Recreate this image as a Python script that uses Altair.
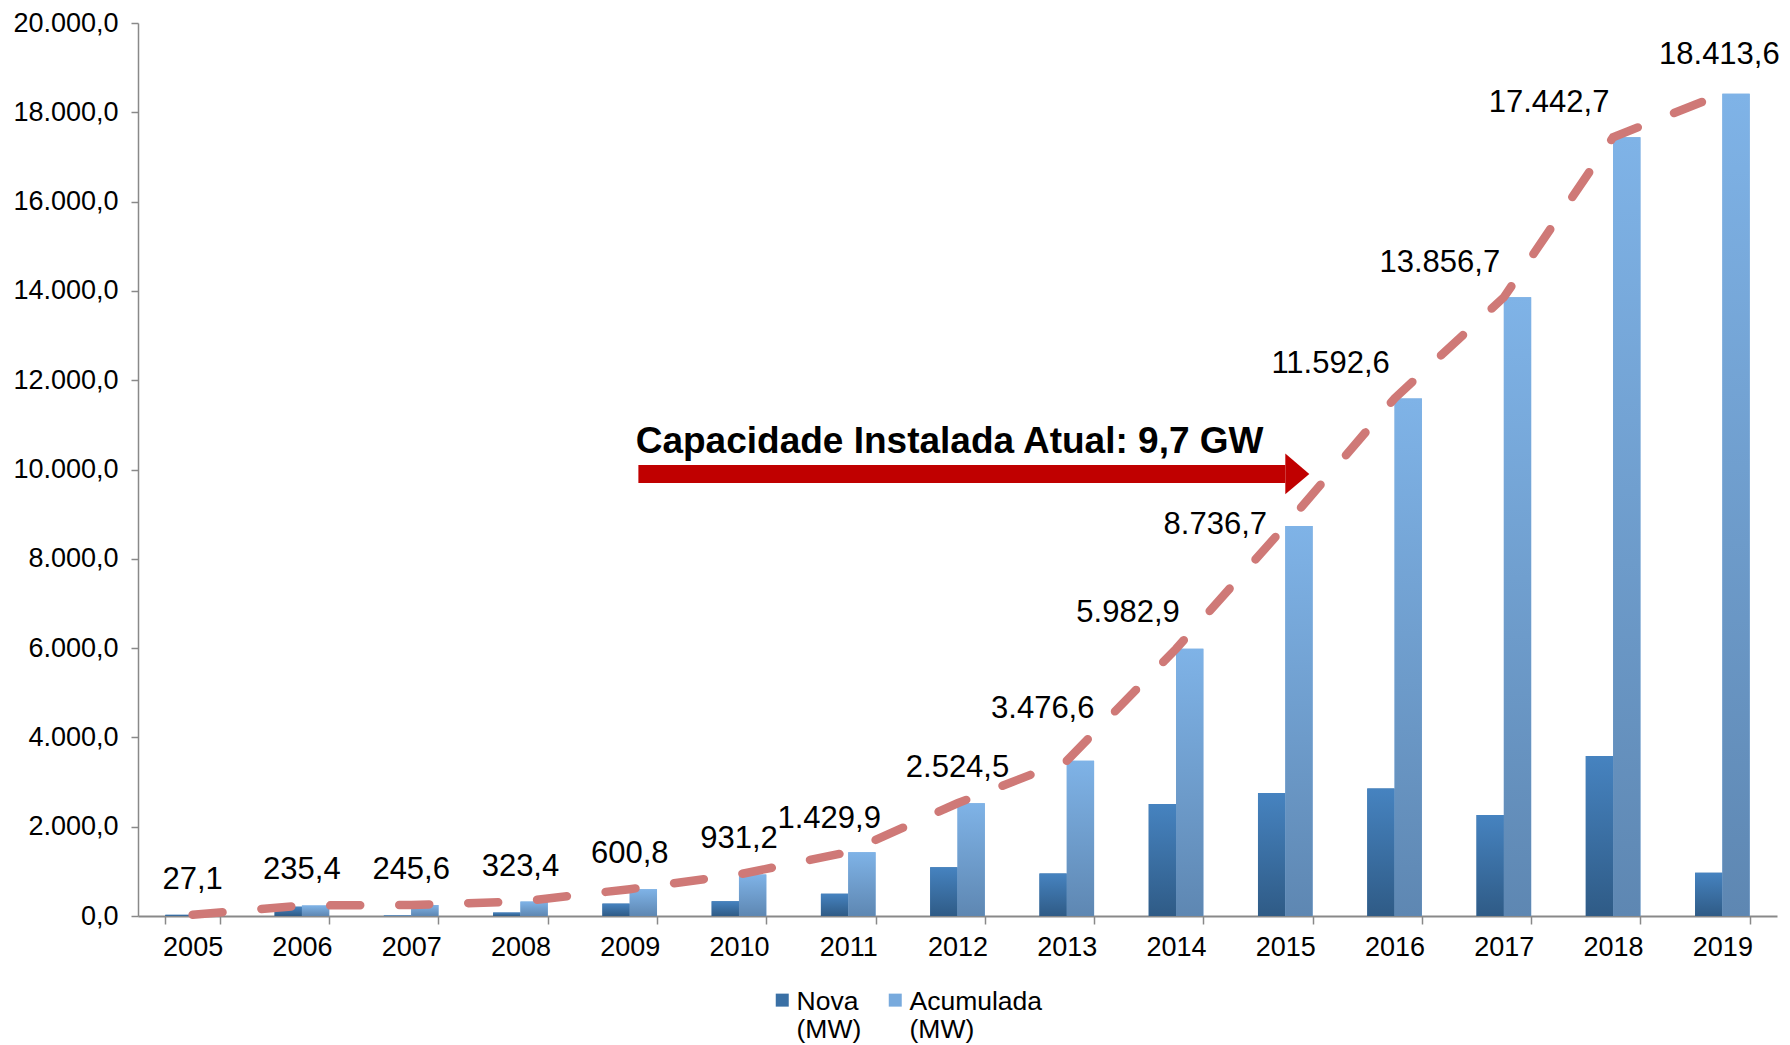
import altair as alt
import pandas as pd

# ---------------- data ----------------
years = ["2005", "2006", "2007", "2008", "2009", "2010", "2011", "2012",
         "2013", "2014", "2015", "2016", "2017", "2018", "2019"]
nova = [27.1, 208.3, 10.2, 77.8, 277.4, 330.4, 498.7, 1094.6,
        952.1, 2506.3, 2753.8, 2855.9, 2264.1, 3586.0, 970.9]
acumulada = [27.1, 235.4, 245.6, 323.4, 600.8, 931.2, 1429.9, 2524.5,
             3476.6, 5982.9, 8736.7, 11592.6, 13856.7, 17442.7, 18413.6]
series_names = ["Nova", "Acumulada"]
y_ticks = [0, 2000, 4000, 6000, 8000, 10000, 12000, 14000, 16000, 18000, 20000]
annotation_text = "Capacidade Instalada Atual: 9,7 GW"
arrow_from = "2009"
arrow_to = "2015"
arrow_level = 9900


def pt_br(v):
    s = f"{v:,.1f}"
    return s.replace(",", "X").replace(".", ",").replace("X", ".")


FONT = "Liberation Sans, Arial, sans-serif"

bars_df = pd.DataFrame(
    [{"year": y, "series": "Nova", "value": v} for y, v in zip(years, nova)]
    + [{"year": y, "series": "Acumulada", "value": v} for y, v in zip(years, acumulada)]
)
line_df = pd.DataFrame({"year": years, "value": acumulada,
                        "label": [pt_br(v) for v in acumulada]})
arrow_df = pd.DataFrame({"year": [arrow_from], "year_end": [arrow_to],
                         "value": [arrow_level], "text": [annotation_text]})

nova_grad = {"gradient": "linear", "x1": 0, "y1": 0, "x2": 0, "y2": 1,
             "stops": [{"offset": 0, "color": "#4683C0"},
                       {"offset": 1, "color": "#2F5B86"}]}
acum_grad = {"gradient": "linear", "x1": 0, "y1": 0, "x2": 0, "y2": 1,
             "stops": [{"offset": 0, "color": "#7FB3E7"},
                       {"offset": 1, "color": "#5E87B2"}]}

y_label_expr = ("replace(replace(replace(format(datum.value, ',.1f'), ',', 'T'), '.', ','), 'T', '.')")

X = alt.X("year:N", sort=years, title=None,
          scale=alt.Scale(domain=years, paddingInner=0.5, paddingOuter=0.25),
          axis=alt.Axis(tickBand="extent", tickSize=8, tickColor="#898989",
                        domainColor="#898989", domainWidth=2, tickWidth=1.5,
                        labelFontSize=27, labelFont=FONT, labelColor="black",
                        labelPadding=10, labelAngle=0, grid=False))
Y = alt.Y("value:Q", title=None,
          scale=alt.Scale(domain=[0, 20000], nice=False),
          axis=alt.Axis(values=y_ticks, labelExpr=y_label_expr, tickSize=7,
                        tickColor="#898989", domainColor="#898989", domainWidth=1.5,
                        tickWidth=1.5, labelFontSize=27, labelFont=FONT,
                        labelColor="black", labelPadding=13, grid=False))
XO = alt.XOffset("series:N", sort=series_names,
                 scale=alt.Scale(domain=series_names))

# legend square drawn slightly below the symbol anchor so it lines up with the first label line
legend_square = "M-1,0.77L1,0.77L1,2.77L-1,2.77Z"

base = alt.Chart(bars_df).mark_bar().encode(
    x=X, y=Y, xOffset=XO,
    color=alt.Color("series:N", sort=series_names,
                    scale=alt.Scale(domain=series_names, range=["#3A70A5", "#78AADD"]),
                    legend=alt.Legend(orient="none", legendX=631, legendY=952,
                                      direction="horizontal", title=None,
                                      symbolType=legend_square, symbolSize=169,
                                      symbolStrokeWidth=0,
                                      labelFontSize=26.5, labelFont=FONT,
                                      labelColor="black",
                                      labelExpr="[datum.label, '(MW)']",
                                      labelOffset=1, columnPadding=20,
                                      labelBaseline="top"))
)

grad_nova = alt.Chart(bars_df).transform_filter(alt.datum.series == "Nova").mark_bar(
    fill=nova_grad).encode(x=alt.X("year:N", title=None), y=alt.Y("value:Q", title=None),
                           xOffset=alt.XOffset("series:N"))
grad_acum = alt.Chart(bars_df).transform_filter(alt.datum.series == "Acumulada").mark_bar(
    fill=acum_grad).encode(x=alt.X("year:N", title=None), y=alt.Y("value:Q", title=None),
                           xOffset=alt.XOffset("series:N"))

line = alt.Chart(line_df).mark_line(
    color="#CF7977", strokeWidth=8.5, strokeDash=[30, 39], strokeCap="round"
).encode(x=alt.X("year:N", title=None), y=alt.Y("value:Q", title=None))

# label placement layers (style, not data)
label_groups = [
    (["2005", "2006", "2007", "2008", "2009", "2010", "2012"], 0, -35),
    (["2011"], -19, -33),
    (["2013"], -24, -52),
    (["2014"], -48, -36),
    (["2015"], -70, -1),
    (["2016", "2017", "2018"], -64, -34),
    (["2019"], -3, -39),
]
label_layers = []
for grp, dx, dy in label_groups:
    label_layers.append(
        alt.Chart(line_df)
        .transform_filter(alt.FieldOneOfPredicate(field="year", oneOf=grp))
        .mark_text(dx=dx, dy=dy, fontSize=31, font=FONT, color="black",
                   align="center", baseline="middle")
        .encode(x=alt.X("year:N", title=None), y=alt.Y("value:Q", title=None),
                text="label:N")
    )

shaft = alt.Chart(arrow_df).mark_rule(color="#C00000", strokeWidth=18, strokeCap="butt").encode(
    x=alt.X("year:N", title=None), x2="year_end", y=alt.Y("value:Q", title=None),
    xOffset=alt.value(36))
head = alt.Chart(arrow_df).mark_point(
    shape="M0,-0.85L1,0L0,0.85Z", size=2304, filled=True, fill="#C00000",
    strokeWidth=0, opacity=1).encode(
    x=alt.X("year_end:N", title=None), y=alt.Y("value:Q", title=None))
annot = alt.Chart(arrow_df).mark_text(
    align="left", baseline="middle", dx=6, dy=-32, fontSize=37,
    fontWeight="bold", font=FONT, color="black").encode(
    x=alt.X("year:N", title=None), y=alt.Y("value:Q", title=None), text="text:N")

chart = alt.layer(base, grad_nova, grad_acum, line, *label_layers, shaft, head, annot).properties(
    width=1639, height=893,
    autosize=alt.AutoSizeParams(type="none"),
    padding={"left": 130, "top": 15, "right": 5, "bottom": 129},
    background="white",
).configure_view(strokeWidth=0)

chart.save("out.html", embed_options={"renderer": "svg", "actions": False})
